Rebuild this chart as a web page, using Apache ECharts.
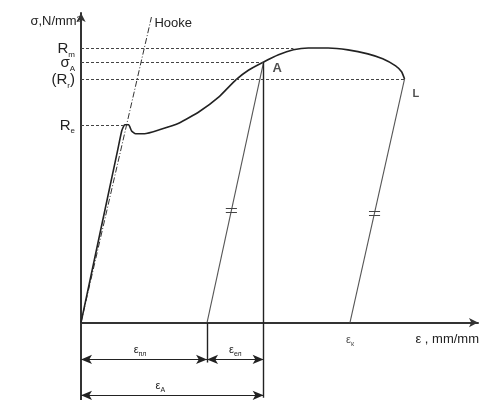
<!DOCTYPE html>
<html><head><meta charset="utf-8">
<script src="https://cdn.jsdelivr.net/npm/echarts@6/dist/echarts.min.js"></script>
<style>html,body{margin:0;padding:0;background:#fff}#c{width:482px;height:400px}</style>
</head><body><div id="c"></div>
<script>
// Stress-strain curve (arbitrary units)
const curveStrain = [0, 9.25, 10.25, 11, 12, 12.75, 13.75, 16, 19.75, 24.75, 29.75, 34.75, 39, 42.25, 46, 49.75, 53.5, 57.25, 62.25, 67.25, 72.25, 76, 79.25, 80.75, 81.5];
const curveStress = [0, 55.8, 61.9, 63.9, 63.9, 61.9, 61.0, 61.0, 62.3, 64.5, 68.1, 72.9, 78.4, 81.6, 84.2, 86.5, 88.1, 88.7, 88.7, 88.1, 86.8, 85.2, 82.9, 81.0, 78.7];
// Hooke line
const hookeStrain = [0, 17.75];
const hookeStress = [0, 98.7];
// Stress levels
const levelNames = [['R', 'm'], ['σ', 'A'], ['(R', 'r', ')'], ['R', 'e']];
const levelStress = [88.7, 84.2, 78.7, 63.9];
const levelEndStrain = [53.5, 46, 81.5, 11.5];
// Unloading lines (A and L)
const unloadAStrain = [46, 31.75];
const unloadAStress = [84.2, 0];
const unloadLStrain = [81.5, 67.75];
const unloadLStress = [78.7, 0];
// Strain components
const epsPlastic = 31.75;
const epsA = 46;

const FONT = 'Liberation Sans, Arial, sans-serif';
const C = '#222';
const rich = {
  b: {fontSize: 15, color: C, fontFamily: FONT, verticalAlign: 'bottom', lineHeight: 17},
  s: {fontSize: 8, color: C, fontFamily: FONT, verticalAlign: 'bottom', lineHeight: 17, padding: [0, 0, -2, 0]},
  bs: {fontSize: 11, color: C, fontFamily: FONT, verticalAlign: 'bottom', lineHeight: 14},
  ss: {fontSize: 7, color: C, fontFamily: FONT, verticalAlign: 'bottom', lineHeight: 14, padding: [0, 0, -2, 0]}
};
function sub(parts) {
  let s = '{b|' + parts[0] + '}{s|' + parts[1] + '}';
  if (parts[2]) s += '{b|' + parts[2] + '}';
  return s;
}
function subSmall(a, b) { return '{bs|' + a + '}{ss|' + b + '}'; }

const zip = (xs, ys) => xs.map((x, i) => [x, ys[i]]);

// hatch marks on the unloading lines
function hatch(xs, ys, t) {
  const x = xs[0] + (xs[1] - xs[0]) * t, y = ys[0] + (ys[1] - ys[0]) * t;
  return [[{coord: [x - 1.4, y + 0.7]}, {coord: [x + 1.4, y + 0.7]}],
          [{coord: [x - 1.4, y - 0.7]}, {coord: [x + 1.4, y - 0.7]}]];
}

const levelLines = levelStress.map((v, i) => [
  {coord: [0, v], label: {formatter: sub(levelNames[i])}},
  {coord: [levelEndStrain[i], v]}
]);

const option = {
  backgroundColor: '#fff',
  animation: false,
  grid: {left: 81, right: 1, top: 13, bottom: 0},
  xAxis: {
    type: 'value', min: 0, max: 100,
    name: 'ε , mm/mm', nameLocation: 'end', nameGap: 0,
    nameTextStyle: {fontFamily: FONT, fontSize: 13, color: C, align: 'right', verticalAlign: 'top', padding: [10, -1, 0, 0]},
    axisLine: {onZero: true, lineStyle: {color: '#333', width: 2}, symbol: ['none', 'arrow'], symbolSize: [7, 9]},
    axisTick: {show: false}, axisLabel: {show: false}, splitLine: {show: false}
  },
  yAxis: {
    type: 'value', min: -25, max: 100,
    name: 'σ,N/mm²', nameLocation: 'end', nameGap: -8,
    nameTextStyle: {fontFamily: FONT, fontSize: 13, color: C, align: 'right', verticalAlign: 'middle', padding: [0, 0, 0, 0]},
    axisLine: {lineStyle: {color: '#333', width: 2}, symbol: ['none', 'arrow'], symbolSize: [7, 9]},
    axisTick: {show: false}, axisLabel: {show: false}, splitLine: {show: false}
  },
  series: [
    {
      type: 'line', name: 'Hooke', data: zip(hookeStrain, hookeStress), symbol: 'none', silent: true,
      lineStyle: {color: '#333', width: 1, type: [6, 2, 1, 2]},
      endLabel: {show: true, formatter: 'Hooke', fontFamily: FONT, fontSize: 13, color: C, offset: [-5, 6]}
    },
    {
      type: 'line', name: 'curve', data: zip(curveStrain, curveStress), symbol: 'none', smooth: 0.15, silent: true,
      lineStyle: {color: '#222', width: 1.6}
    },
    {
      type: 'line', name: 'unloadA', data: zip(unloadAStrain, unloadAStress), symbol: 'none', silent: true,
      lineStyle: {color: '#555', width: 1.1},
      markLine: {silent: true, symbol: 'none', label: {show: false}, lineStyle: {color: '#444', width: 1, type: 'solid'},
        data: hatch(unloadAStrain, unloadAStress, 0.57)}
    },
    {
      type: 'line', name: 'unloadL', data: zip(unloadLStrain, unloadLStress), symbol: 'none', silent: true,
      lineStyle: {color: '#555', width: 1.1},
      markLine: {silent: true, symbol: 'none', label: {show: false}, lineStyle: {color: '#444', width: 1, type: 'solid'},
        data: hatch(unloadLStrain, unloadLStress, 0.55)}
    },
    {
      type: 'line', name: 'levels', data: [], silent: true,
      markLine: {
        silent: true, symbol: 'none', animation: false,
        lineStyle: {color: '#444', width: 1, type: [3, 2]},
        label: {show: true, position: 'start', distance: 6, rich: rich},
        data: levelLines
      }
    },
    {
      type: 'line', name: 'verticals', data: [], silent: true,
      markLine: {
        silent: true, symbol: 'none', label: {show: false},
        lineStyle: {color: '#222', width: 1.4, type: 'solid'},
        data: [
          [{coord: [epsA, levelStress[1]]}, {coord: [epsA, -24.3]}],
          [{coord: [epsPlastic, 0]}, {coord: [epsPlastic, -12.9]}]
        ]
      }
    },
    {
      type: 'line', name: 'dims', data: [], silent: true,
      markLine: {
        silent: true, symbol: ['arrow', 'arrow'], symbolSize: [7, 11],
        lineStyle: {color: '#222', width: 1, type: 'solid'},
        itemStyle: {color: '#222'},
        label: {show: true, position: 'insideMiddleTop', distance: 4, rich: rich},
        data: [
          [{coord: [0, -11.9], label: {formatter: subSmall('ε', 'пл'), offset: [-4, 0]}}, {coord: [epsPlastic, -11.9]}],
          [{coord: [epsPlastic, -11.9], label: {formatter: subSmall('ε', 'ел')}}, {coord: [epsA, -11.9]}],
          [{coord: [0, -23.5], label: {formatter: subSmall('ε', 'A'), offset: [-12, 0]}}, {coord: [epsA, -23.5]}]
        ]
      }
    },
    {
      type: 'scatter', name: 'points', symbolSize: 0, silent: true,
      label: {show: true, fontFamily: FONT, color: C, rich: rich},
      data: [
        {value: [epsA, levelStress[1]], label: {formatter: 'A', position: 'right', offset: [4, 7], fontSize: 13, fontWeight: 'bold'}},
        {value: [unloadLStrain[0], unloadLStress[0]], label: {formatter: 'L', position: 'right', offset: [3, 15], fontSize: 11, fontWeight: 'bold'}},
        {value: [unloadLStrain[1], 0], label: {formatter: subSmall('ε', 'к'), position: 'bottom', distance: 9}}
      ]
    }
  ]
};
const chart = echarts.init(document.getElementById('c'), null, {renderer: 'canvas'});
chart.setOption(option);
</script></body></html>
